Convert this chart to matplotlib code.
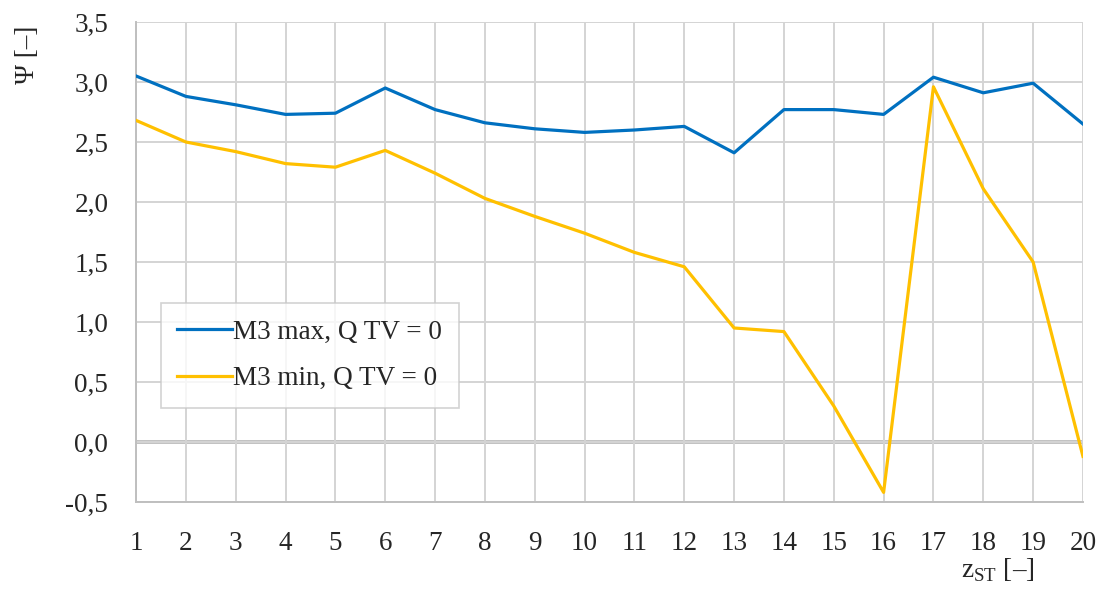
import matplotlib
matplotlib.use("Agg")
import matplotlib.pyplot as plt
from matplotlib.ticker import FuncFormatter, MultipleLocator

plt.rcParams['font.family'] = ['Liberation Serif', 'DejaVu Serif']
plt.rcParams['mathtext.fontset'] = 'custom'
plt.rcParams['mathtext.rm'] = 'Liberation Serif'

z_st = list(range(1, 21))
m3_max = [3.05, 2.88, 2.81, 2.73, 2.74, 2.95, 2.77, 2.66, 2.61, 2.58,
          2.60, 2.63, 2.41, 2.77, 2.77, 2.73, 3.04, 2.91, 2.99, 2.65]
m3_min = [2.68, 2.50, 2.42, 2.32, 2.29, 2.43, 2.24, 2.03, 1.88, 1.74,
          1.58, 1.46, 0.95, 0.92, 0.30, -0.42, 2.96, 2.11, 1.50, -0.12]
labels = ['M3 max, Q TV = 0', 'M3 min, Q TV = 0']

FS = 19.5
fig = plt.figure(figsize=(10.99, 5.90), dpi=100)
ax = fig.add_axes([0.1238, 0.1492, 0.8616, 0.8135])

grid_c = '#d4d4d4'
ax.set_xlim(1, 20)
ax.set_ylim(-0.5, 3.5)
ax.xaxis.set_major_locator(MultipleLocator(1))
ax.yaxis.set_major_locator(MultipleLocator(0.5))
ax.yaxis.set_major_formatter(FuncFormatter(lambda v, p: f"{v:.1f}".replace('.', ',')))
ax.grid(True, color=grid_c, linewidth=1.4, zorder=0)
ax.axhline(0, color='#bfbfbf', linewidth=2.8, zorder=1)

for s in ['top', 'right']:
    ax.spines[s].set_visible(False)
for s in ['left', 'bottom']:
    ax.spines[s].set_color('#bfbfbf')
    ax.spines[s].set_linewidth(1.4)

ax.tick_params(axis='both', length=0, labelsize=FS, colors='#262626', pad=20)
ax.tick_params(axis='x', pad=21)

ax.plot(z_st, m3_max, color='#0070C0', linewidth=2.3, label=labels[0], zorder=3)
ax.plot(z_st, m3_min, color='#FFC000', linewidth=2.3, label=labels[1], zorder=3)

leg = ax.legend(loc='upper left', bbox_to_anchor=(0.026, 0.415), fontsize=FS,
                frameon=True, fancybox=False, edgecolor='#c8c8c8',
                handlelength=2.0, handletextpad=0.05, borderpad=0.62,
                labelspacing=0.8, borderaxespad=0)
leg.get_frame().set_linewidth(1.2)
for t in leg.get_texts():
    t.set_color('#262626')

fig.text(0.025, 0.907, 'Ψ [–]', rotation=90, fontsize=FS, color='#262626',
         ha='center', va='center')
fig.text(0.9418, 0.022, r'z$_\mathregular{ST}$ [–]', fontsize=FS, color='#262626',
         ha='right', va='baseline')

fig.savefig('out.png', dpi=100)
